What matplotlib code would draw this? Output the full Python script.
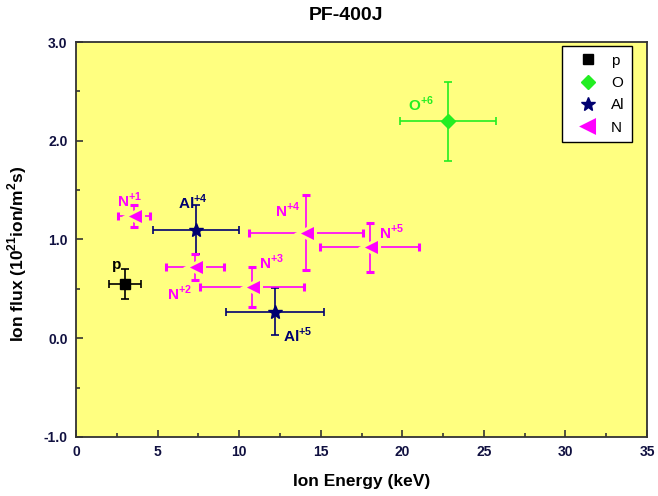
import matplotlib
matplotlib.use('Agg')
import matplotlib.pyplot as plt
from matplotlib.ticker import MultipleLocator

plt.rcParams['font.family'] = ['Liberation Sans', 'DejaVu Sans']
plt.rcParams['mathtext.fontset'] = 'custom'
plt.rcParams['mathtext.rm'] = 'Liberation Sans'
plt.rcParams['mathtext.bf'] = 'Liberation Sans:bold'

# data (energy in keV, flux in 1e21 ion/m^2 s)
p_x, p_y = [3.0], [0.55]
p_xerr, p_yerr = [1.0], [0.15]

o_x, o_y = [22.8], [2.2]
o_xerr, o_yerr = [2.95], [0.40]

al_x, al_y = [7.35, 12.2], [1.10, 0.27]
al_xerr, al_yerr = [2.65, 3.0], [0.25, 0.24]

n_x = [3.55, 7.3, 10.8, 14.1, 18.0]
n_y = [1.24, 0.72, 0.52, 1.07, 0.92]
n_xerr = [0.97, 1.8, 3.2, 3.5, 3.05]
n_yerr = [0.11, 0.13, 0.20, 0.38, 0.25]

# charge-state labels: (text, x, y, colour, superscript)
labels = [
    ('p', 2.2, 0.74, 'black', None),
    ('O', 20.35, 2.37, '#22ee22', '+6'),
    ('Al', 6.25, 1.38, '#000070', '+4'),
    ('Al', 12.7, 0.03, '#000070', '+5'),
    ('N', 2.5, 1.40, '#ff00ff', '+1'),
    ('N', 5.6, 0.45, '#ff00ff', '+2'),
    ('N', 11.2, 0.77, '#ff00ff', '+3'),
    ('N', 12.2, 1.30, '#ff00ff', '+4'),
    ('N', 18.6, 1.07, '#ff00ff', '+5'),
]

BG = '#ffff80'

fig = plt.figure(figsize=(6.58, 4.96), dpi=100)
ax = fig.add_axes([0.1155, 0.119, 0.8678, 0.7963])
ax.set_facecolor(BG)

kw = dict(ls='none', capsize=3, elinewidth=1.2, capthick=1.2)
ax.errorbar(p_x, p_y, xerr=p_xerr, yerr=p_yerr, color='black', marker='s',
            ms=7, label='p', **kw)
ax.errorbar(o_x, o_y, xerr=o_xerr, yerr=o_yerr, color='#22ee22', marker='D',
            ms=7, label='O', **kw)
ax.errorbar(al_x, al_y, xerr=al_xerr, yerr=al_yerr, color='#000070',
            marker='*', ms=10, label='Al', **kw)
ax.errorbar(n_x, n_y, xerr=n_xerr, yerr=n_yerr, color='#ff00ff', marker='<',
            ms=13, mec=BG, mew=2.2, label='N', **kw)

for txt, x, y, c, sup in labels:
    s = txt if sup is None else txt + r'$^{\mathbf{' + sup + '}}$'
    ax.text(x, y, s, color=c, fontsize=11, fontweight='bold',
            ha='left', va='center')

ax.set_xlim(0, 35)
ax.set_ylim(-1.0, 3.0)
ax.xaxis.set_major_locator(MultipleLocator(5))
ax.xaxis.set_minor_locator(MultipleLocator(2.5))
ax.yaxis.set_major_locator(MultipleLocator(1.0))
ax.yaxis.set_minor_locator(MultipleLocator(0.5))
ax.yaxis.set_major_formatter(lambda v, _: f'{v:.1f}')
ax.tick_params(which='both', direction='in', top=False, right=False,
               labelsize=10, labelcolor='#101040', color='#333333')
ax.tick_params(which='major', length=5, width=1.2, pad=6)
ax.tick_params(which='minor', length=3, width=1.2)
for lab in ax.get_xticklabels() + ax.get_yticklabels():
    lab.set_fontweight('bold')
for sp in ax.spines.values():
    sp.set_linewidth(1.3)
    sp.set_color('#333333')

ax.set_xlabel('Ion Energy (keV)', fontsize=12.5, fontweight='bold')
ax.xaxis.set_label_coords(0.5, -0.095)
ax.set_ylabel(r'Ion flux (10$^{\mathbf{21}}$ion/m$^{\mathbf{2}}$s)',
              fontsize=12.5, fontweight='bold')
ax.yaxis.set_label_coords(-0.082, 0.463)
ax.text(0.473, 1.068, 'PF-400J', transform=ax.transAxes, fontsize=14,
        fontweight='bold', ha='center', va='center')

handles, names = ax.get_legend_handles_labels()
handles = [h[0] for h in handles]
leg = ax.legend(handles, names, loc='upper right',
                bbox_to_anchor=(0.9737, 0.99), borderaxespad=0,
                fontsize=11, fancybox=False, edgecolor='black',
                framealpha=1, handlelength=2.4, handletextpad=0.3,
                labelspacing=0.55, borderpad=0.5, markerfirst=True)
leg.get_frame().set_linewidth(1.0)
leg.legend_handles[3].set_markeredgecolor('#ff00ff')
leg.legend_handles[3].set_markersize(9)

fig.savefig('out.png', dpi=100)
